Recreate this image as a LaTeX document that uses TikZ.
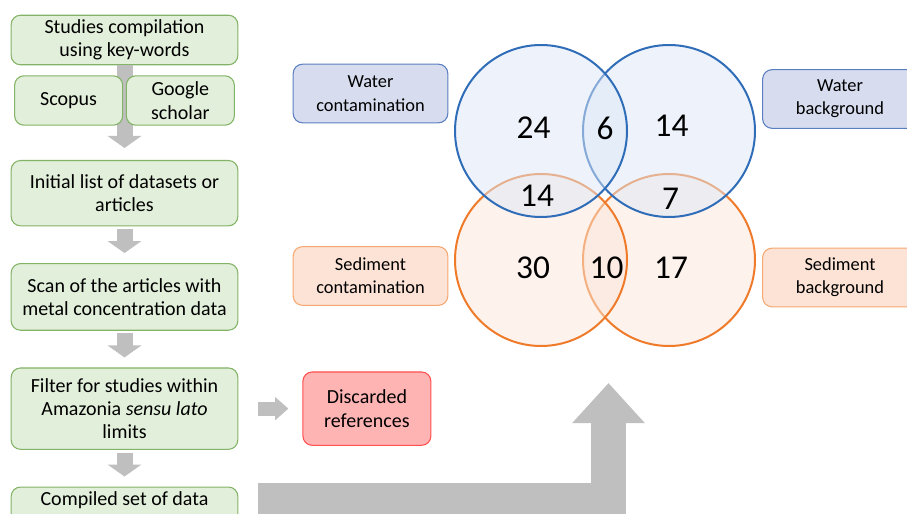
\documentclass[tikz,border=0pt]{standalone}
\usepackage{fontspec}
\setmainfont{Carlito}
\usetikzlibrary{arrows.meta,positioning}
\definecolor{leafline}{HTML}{82B366}
\definecolor{leaffill}{HTML}{E2EFDA}
\definecolor{waterline}{HTML}{2F6DB8}
\definecolor{waterfill}{HTML}{DDE7F7}
\definecolor{watertag}{HTML}{D7DDEF}
\definecolor{watertagline}{HTML}{5A7FC0}
\definecolor{sedline}{HTML}{EF7B2A}
\definecolor{sedfill}{HTML}{FBE5D9}
\definecolor{sedtag}{HTML}{FCE3D5}
\definecolor{sedtagline}{HTML}{F6A873}
\definecolor{discfill}{HTML}{FFB4B4}
\definecolor{discline}{HTML}{FF4F4F}
\definecolor{arrowgray}{HTML}{BFBFBF}

\begin{document}
\begin{tikzpicture}[
  x=0.75pt, y=-0.75pt, node distance=27.5pt, font=\fontsize{15}{17.5}\selectfont,
  box/.style={draw=leafline,fill=leaffill,rounded corners=7pt,minimum width=170pt,align=center,line width=0.8pt},
  src/.style={box,minimum width=81pt,minimum height=37pt},
  tag/.style={rounded corners=7pt,minimum width=116pt,minimum height=44pt,align=center,line width=0.8pt,font=\fontsize{13.8}{17.5}\selectfont},
  ring/.style={circle,minimum size=129pt,line width=1.5pt,fill opacity=0.5,draw opacity=1},
  num/.style={font=\fontsize{25}{30}\selectfont,inner sep=0pt},
  ar/.style={draw=arrowgray,line width=12pt,-{Triangle[width=25pt,length=9pt]}},
  bigar/.style={draw=arrowgray,line width=26.25pt,-{Triangle[width=52.5pt,length=30pt]}}
]
\useasboundingbox (0,0) rectangle (907,514);
% flow of the literature search
\node[box,minimum height=36pt] (search) at (124.5,40) {Studies compilation\\using key-words};
\node[box,minimum height=49pt,below=71pt of search] (initial) {Initial list of datasets or\\articles};
\node[box,minimum height=50pt,below=of initial] (scan) {Scan of the articles with\\metal concentration data};
\node[box,minimum height=61pt,below=of scan] (filter) {Filter for studies within\\Amazonia \textit{sensu lato}\\limits};
\node[box,minimum height=36pt,below=of filter] (compiled) {Compiled set of data\\\strut};
\node[box,draw=discline,fill=discfill,minimum width=96pt,minimum height=55pt,right=48pt of filter] (discard) {Discarded\\references};
\draw[ar,shorten >=9pt](search)--(initial);
\node[src,below left=7.5pt and 1pt of search.south] (scopus) {Scopus};
\node[src,below right=7.5pt and 1pt of search.south] (scholar) {Google\\scholar};
\draw[ar,shorten <=2pt,shorten >=7.5pt](initial)--(scan);
\draw[ar,shorten <=2pt,shorten >=7.5pt](scan)--(filter);
\draw[ar,shorten <=2pt,shorten >=7.5pt](filter)--(compiled);
\draw[ar,line width=10.5pt,-{Triangle[width=17pt,length=10pt]},shorten <=15pt,shorten >=10.5pt](filter)--(discard);
\coordinate (feed) at (258,500.5);
\coordinate (venn) at (608.5,383);
\draw[bigar](feed)-|(venn);
% venn diagram
\node[ring,draw=sedline,fill=sedfill] (sb) at (669,260) {};
\node[ring,draw=sedline,fill=sedfill] (sc) at (541,260) {};
\node[ring,draw=waterline,fill=waterfill] (wb) at (669,131) {};
\node[ring,draw=waterline,fill=waterfill] (wc) at (541,131) {};
\node[num] (wconly) at (533.5,128) {24};
\node[num] (ww) at (605,128) {6};
\node[num] (wbonly) at (671.5,126) {14};
\node[num] (wcsc) at (537,196) {14};
\node[num] (wbsb) at (670.5,199) {7};
\node[num] (sconly) at (533,267.5) {30};
\node[num] (ss) at (606.5,267.5) {10};
\node[num] (sbonly) at (671,267.5) {17};
\node[tag,draw=watertagline,fill=watertag] (wctag) at (370.5,93.5) {Water\\contamination};
\node[tag,draw=sedtagline,fill=sedtag] (sctag) at (370.5,276) {Sediment\\contamination};
\node[tag,draw=watertagline,fill=watertag] (wbtag) at (840,99) {Water\\background};
\node[tag,draw=sedtagline,fill=sedtag] (sbtag) at (840,277.5) {Sediment\\background};
\end{tikzpicture}
\end{document}
